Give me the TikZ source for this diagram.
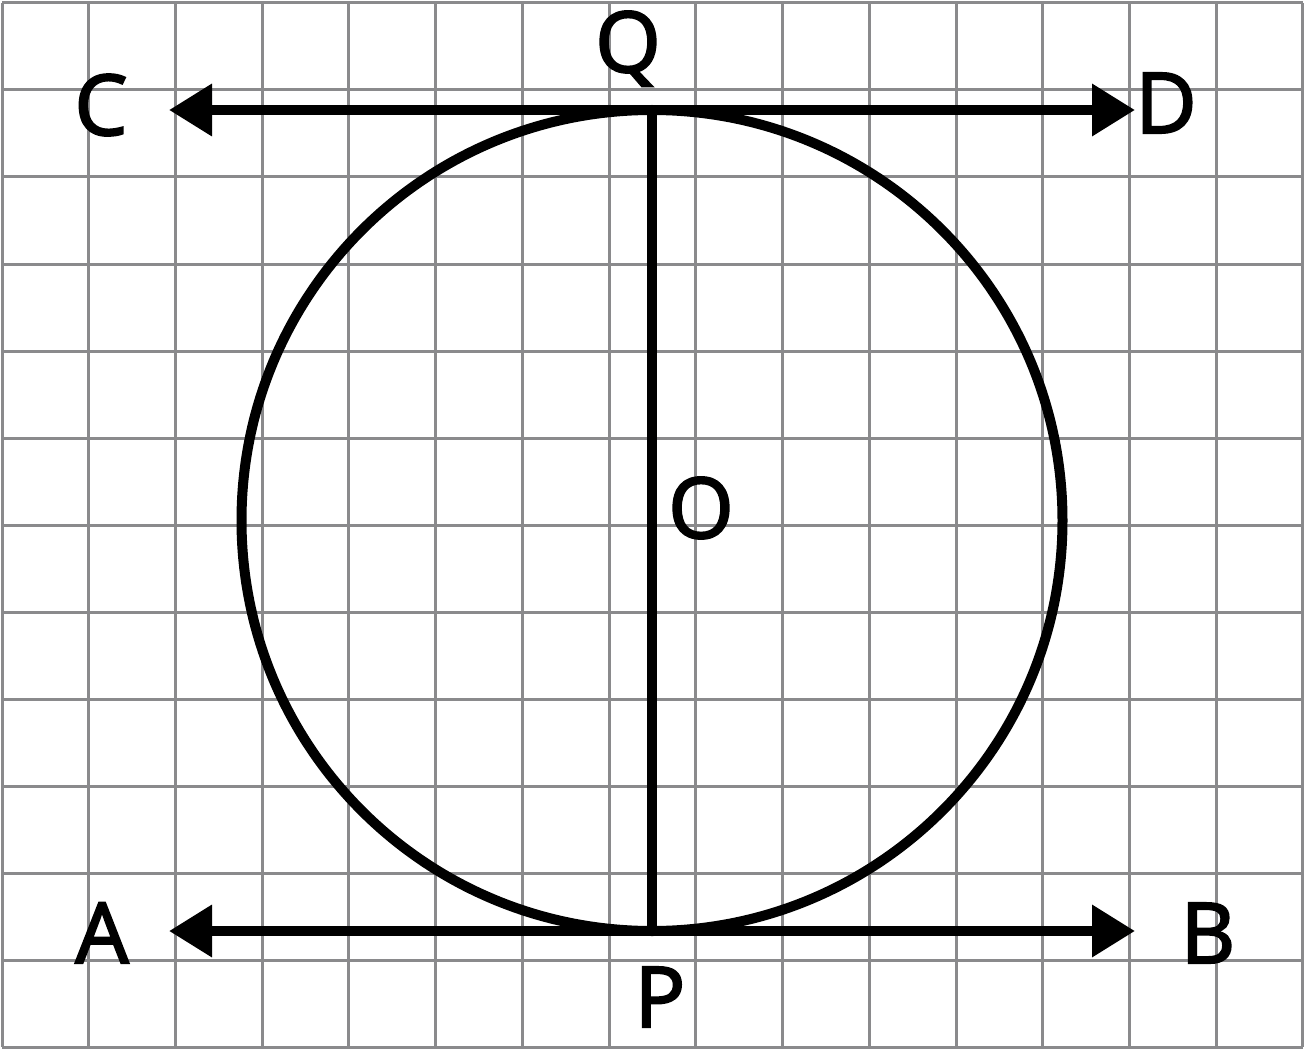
\documentclass[tikz,border=0pt]{standalone}
\usepackage{fontspec}
\setmainfont{Open Sans}
\newfontfamily\lblfont{Open Sans}[FakeBold=2.5]
\usetikzlibrary{arrows.meta}
\tikzset{
  gridline/.style={draw=gridgray, line width=3pt},
  thick line/.style={draw=black, line width=10pt},
  dblarrow/.style={thick line, {Triangle[length=43pt,width=50pt]}-{Triangle[length=43pt,width=50pt]}},
  lbl/.style={inner sep=0pt, anchor=base, font=\fontsize{84}{90}\lblfont}
}
\definecolor{gridgray}{HTML}{8A8A8C}
\begin{document}
\begin{tikzpicture}[x=1pt,y=-1pt]
\useasboundingbox (0,0) rectangle (1304,1051);
\fill[white] (0,0) rectangle (1304,1051);
% grid
\foreach \i in {0,...,15} {
  \draw[gridline] ({2+86.73*\i},3) -- ({2+86.73*\i},1047);
}
\foreach \j in {0,...,12} {
  \draw[gridline] (2,{3+87*\j}) -- (1303,{3+87*\j});
}
% points
\coordinate (O) at (652,520.5);
\coordinate (Q) at (652,110);
\coordinate (P) at (652,931);
\coordinate (Cend) at (169,110);
\coordinate (Dend) at (1135,110);
\coordinate (Aend) at (169,931);
\coordinate (Bend) at (1135,931);
% circle
\draw[thick line] (O) circle[radius=410.5];
% diameter
\draw[thick line] (Q) -- (P);
% tangent lines
\draw[dblarrow] (Cend) -- (Dend);
\draw[dblarrow] (Aend) -- (Bend);
% labels
\node[lbl] (labC) at (101,135) {C};
\node[lbl] (labQ) at (628,72) {Q};
\node[lbl] (labD) at (1166,133) {D};
\node[lbl] (labO) at (701,538) {O};
\node[lbl] (labA) at (102,963) {A};
\node[lbl] (labB) at (1208,963) {B};
\node[lbl] (labP) at (660,1027) {P};
\end{tikzpicture}
\end{document}
